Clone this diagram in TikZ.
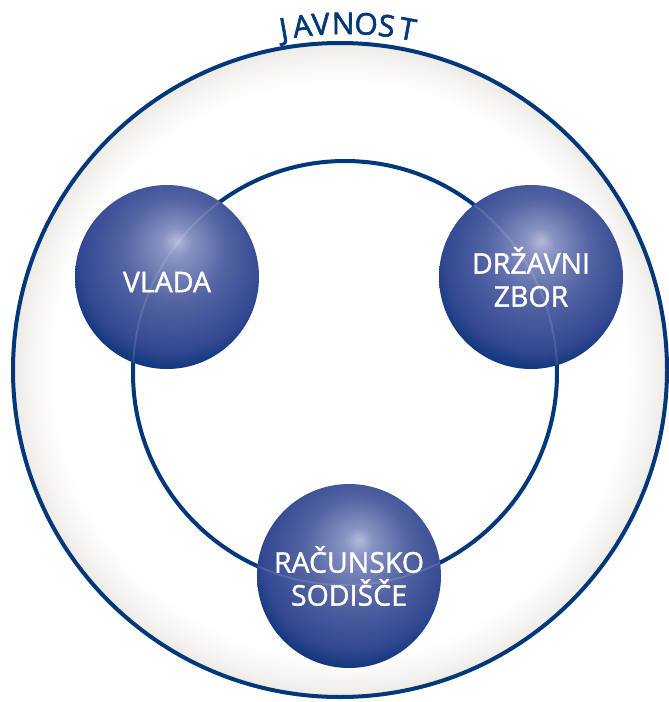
\documentclass[tikz,border=0pt]{standalone}
\usepackage{fontspec}
\setmainfont{Open Sans}
\newfontfamily\semibold{Open Sans}[FakeBold=1.4]
\newfontfamily\heavy{Open Sans}[FakeBold=2]
\definecolor{navy}{RGB}{0,56,122}
\definecolor{ringlight}{RGB}{245,243,240}
\definecolor{ringbeige}{RGB}{237,234,228}
\definecolor{sphhi}{RGB}{178,185,218}
\definecolor{sphlt}{RGB}{136,147,194}
\definecolor{sphmid}{RGB}{84,100,163}
\definecolor{sphedge}{RGB}{50,72,145}
\definecolor{sphdark}{RGB}{14,54,124}
\pgfdeclareradialshading{ring}{\pgfpoint{0bp}{0bp}}{color(0bp)=(white); color(22bp)=(white); color(24bp)=(ringlight); color(25bp)=(ringbeige); color(50bp)=(ringbeige)}
\pgfdeclareradialshading{sphere}{\pgfpoint{2.7bp}{10bp}}{color(0bp)=(sphhi); color(4bp)=(sphlt); color(14bp)=(sphmid); color(25bp)=(sphedge); color(29.5bp)=(sphdark); color(34bp)=(navy); color(50bp)=(navy)}
\tikzset{
        ball/.style={circle, minimum size=184, shade, shading=sphere, text=white,
                align=center, font=\semibold\fontsize{28.5}{33}\selectfont},
        ring/.style={circle, draw=navy, line width=4},
        trace/.style={white, opacity=0.12, line width=2},
        letter/.style={text=navy, anchor=base, inner sep=0, font=\heavy\fontsize{30}{30}\selectfont}
}
\begin{document}
\begin{tikzpicture}[x=1pt, y=1pt]
        \useasboundingbox (0,0) rectangle (669,-702);

        % outer ring and inner circle
        \node[ring, minimum size=654, shade, shading=ring] (javnost) at (340,-370) {};
        \node[ring, minimum size=424, fill=white] (krog) at (345,-373) {};

        % the three spheres
        \node[ball] (vlada) at (167,-277) {\raisebox{-5pt}[\height][\depth]{VLADA}};
        \node[ball] (zbor) at (531,-277) {DRŽAVNI\\ZBOR};
        \node[ball] (sodisce) at (349,-576) {RAČUNSKO\\SODIŠČE};

        \foreach \s in {vlada, zbor, sodisce}
        {
                \begin{scope}
                        \clip (\s.center) circle (92);
                        \draw[trace] (krog.center) circle (212);
                \end{scope}
        }

        % letters along the outer ring
        \coordinate (mid) at (345,-370);
        \foreach \c/\a [count=\i] in {J/100.2, A/97.1, V/94.0, N/90.3, O/86.5, S/83.1, T/79.6}
        {
                \node[letter, rotate=\a-90] (j\i) at ([shift={(\a:336)}]mid) {\c};
        }

\end{tikzpicture}
\end{document}
